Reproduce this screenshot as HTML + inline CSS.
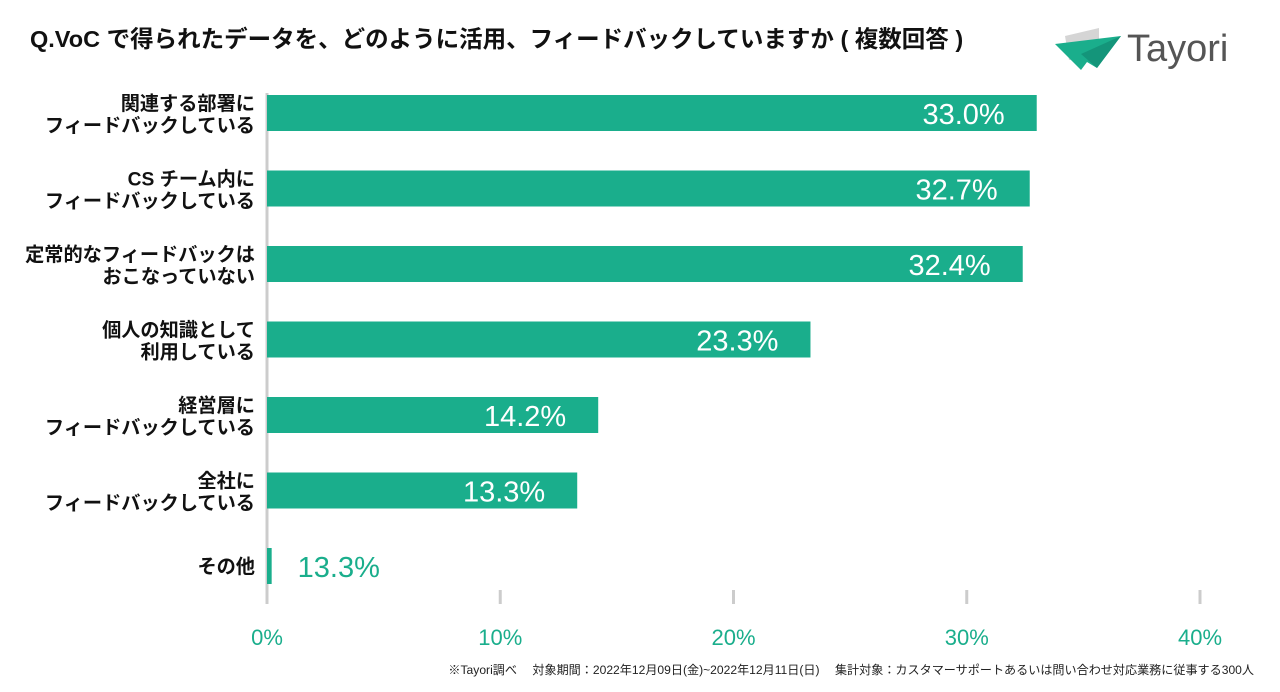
<!DOCTYPE html>
<html><head><meta charset="utf-8"><style>
body{margin:0;width:1280px;height:692px;background:#fff;font-family:"Liberation Sans","Noto Sans CJK JP",sans-serif;overflow:hidden;position:relative}
</style></head><body>
<div style="position:absolute;left:30px;top:20px;font-size:23.5px;font-weight:bold;color:#111;font-family:'Liberation Sans','Noto Sans CJK JP',sans-serif;white-space:nowrap">Q.VoC で得られたデータを、どのように活用、フィードバックしていますか ( 複数回答 )</div>
<div style="position:absolute;left:1055px;top:22px;width:220px;height:54px">
<svg width="220" height="54">
<polygon points="10,14 44,6 44,36 14,38" fill="#d5d5d5"/>
<polygon points="0,22 66,14 42,46 32,40 26,48" fill="#1aae8c"/>
<polygon points="26,32 66,14 42,46" fill="#14957a"/>
<text x="72" y="39" font-size="38" fill="#555" font-family="Liberation Sans, sans-serif">Tayori</text>
</svg></div>
<svg id="chart" width="1280" height="692" style="position:absolute;left:0;top:0"></svg>
<div style="position:absolute;right:26px;top:661px;font-size:12.1px;color:#222;white-space:pre">※Tayori調べ　 対象期間：2022年12月09日(金)~2022年12月11日(日)　 集計対象：カスタマーサポートあるいは問い合わせ対応業務に従事する300人</div>
<script>
const categories=[["関連する部署に","フィードバックしている"],["CS チーム内に","フィードバックしている"],["定常的なフィードバックは","おこなっていない"],["個人の知識として","利用している"],["経営層に","フィードバックしている"],["全社に","フィードバックしている"],["その他"]];
const values=[33.0,32.7,32.4,23.3,14.2,13.3,0.2];
const valueLabels=["33.0%","32.7%","32.4%","23.3%","14.2%","13.3%","13.3%"];
const ticks=[0,10,20,30,40];
const svg=document.getElementById('chart');const NS='http://www.w3.org/2000/svg';
const x0=267,x1=1200,vmax=40;
const X=v=>x0+(x1-x0)*v/vmax;
const Y=i=>113+i*75.5;
function el(t,a){const e=document.createElementNS(NS,t);for(const k in a)e.setAttribute(k,a[k]);svg.appendChild(e);return e;}
const ax=el('line',{x1:x0,x2:x0,y1:93,y2:604,stroke:'#ccc','stroke-width':3});


ticks.forEach(t=>{
 if(t>0){const l=el('line',{x1:X(t),x2:X(t),y1:590,y2:604,stroke:'#ccc','stroke-width':3});
 
 }
 const tx=el('text',{x:X(t),y:645,'text-anchor':'middle','font-size':22,fill:'#1aae8c'});tx.textContent=t+'%';
 
 
});
values.forEach((v,i)=>{
 const y=Y(i);
 const r=el('rect',{x:x0,y:y-18,width:X(v)-x0,height:36,fill:'#1aae8c'});
 
 
 const inside=X(v)-x0>100;
 const t=el('text',{x:inside?X(v)-32:X(v)+26,y:y+11,'text-anchor':inside?'end':'start','font-size':29,fill:inside?'#fff':'#1aae8c'});
 t.textContent=valueLabels[i];
 
 
 const lines=categories[i];
 lines.forEach((s,j)=>{
  const c=el('text',{x:255,y:y+(lines.length===2?(j===0?-3:19):7),'text-anchor':'end','font-size':19.2,'font-weight':'bold',fill:'#111'});
  c.textContent=s;
  
  
 });
});
</script>
</body></html>
